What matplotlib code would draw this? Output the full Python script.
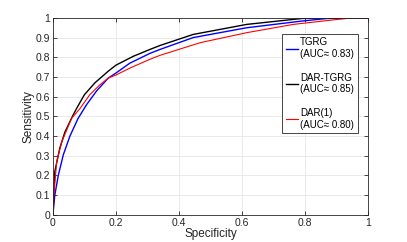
import matplotlib
matplotlib.use("Agg")
import matplotlib.pyplot as plt

# ROC curves (x = specificity axis, y = sensitivity)
tgrg_x = [0.0, 0.006, 0.017, 0.033, 0.054, 0.08, 0.107, 0.139, 0.176, 0.2,
          0.244, 0.308, 0.34, 0.445, 0.615, 0.79, 0.87, 0.95, 1.0]
tgrg_y = [0.0, 0.10, 0.20, 0.305, 0.40, 0.49, 0.56, 0.63, 0.695, 0.72,
          0.77, 0.82, 0.84, 0.90, 0.95, 0.984, 0.997, 1.0, 1.0]

dar_tgrg_x = [0.0, 0.006, 0.022, 0.038, 0.062, 0.075, 0.10, 0.133, 0.176, 0.2,
              0.255, 0.308, 0.34, 0.445, 0.615, 0.79, 0.85, 1.0]
dar_tgrg_y = [0.0, 0.22, 0.34, 0.42, 0.50, 0.54, 0.61, 0.67, 0.73, 0.76,
              0.805, 0.84, 0.86, 0.916, 0.967, 0.997, 1.0, 1.0]

dar1_x = [0.0, 0.003, 0.012, 0.028, 0.059, 0.086, 0.117, 0.149, 0.176, 0.2,
          0.244, 0.308, 0.34, 0.467, 0.615, 0.763, 0.89, 0.95, 1.0]
dar1_y = [0.0, 0.10, 0.27, 0.37, 0.49, 0.54, 0.61, 0.66, 0.695, 0.71,
          0.745, 0.79, 0.81, 0.874, 0.925, 0.967, 0.99, 1.0, 1.0]

labels = ["TGRG\n(AUC\u2248 0.83)", "DAR-TGRG\n(AUC\u2248 0.85)", "DAR(1)\n(AUC\u2248 0.80)"]
ticks = [0, 0.1, 0.2, 0.3, 0.4, 0.5, 0.6, 0.7, 0.8, 0.9, 1]
xticks = [0, 0.2, 0.4, 0.6, 0.8, 1]

plt.rcParams["font.family"] = ["Liberation Sans", "DejaVu Sans"]
ink = "#262626"

fig = plt.figure(figsize=(4.07, 2.42), dpi=100)
ax = fig.add_axes([0.130, 0.112, 0.774, 0.814])

ax.plot(tgrg_x, tgrg_y, color="#0000ff", lw=1.0, label=labels[0])
ax.plot(dar_tgrg_x, dar_tgrg_y, color="black", lw=1.0, label=labels[1])
ax.plot(dar1_x, dar1_y, color="#ff0000", lw=0.8, label=labels[2])

ax.set_xlim(0, 1)
ax.set_ylim(0, 1)
ax.set_xticks(xticks)
ax.set_xticklabels(["0", "0.2", "0.4", "0.6", "0.8", "1"])
ax.set_yticks(ticks)
ax.set_yticklabels(["0", "0.1", "0.2", "0.3", "0.4", "0.5", "0.6", "0.7", "0.8", "0.9", "1"])
ax.grid(True, color="#e6e6e6", lw=0.6)
ax.set_axisbelow(True)
ax.tick_params(direction="in", top=True, right=True, length=3, width=0.6,
               colors=ink, labelsize=7.5, pad=2)
for s in ax.spines.values():
    s.set_color(ink)
    s.set_linewidth(0.6)

ax.set_xlabel("Specificity", fontsize=8.5, color=ink, labelpad=0)
ax.set_ylabel("Sensitivity", fontsize=8.5, color=ink, labelpad=1)

leg = ax.legend(loc="upper right", bbox_to_anchor=(0.983, 0.945), fontsize=7,
                handlelength=1.2, handletextpad=0.2, labelspacing=1.4,
                borderpad=0.4, fancybox=False, framealpha=1)
leg.get_frame().set_edgecolor(ink)
leg.get_frame().set_linewidth(0.6)

fig.savefig("out.png", dpi=100)
